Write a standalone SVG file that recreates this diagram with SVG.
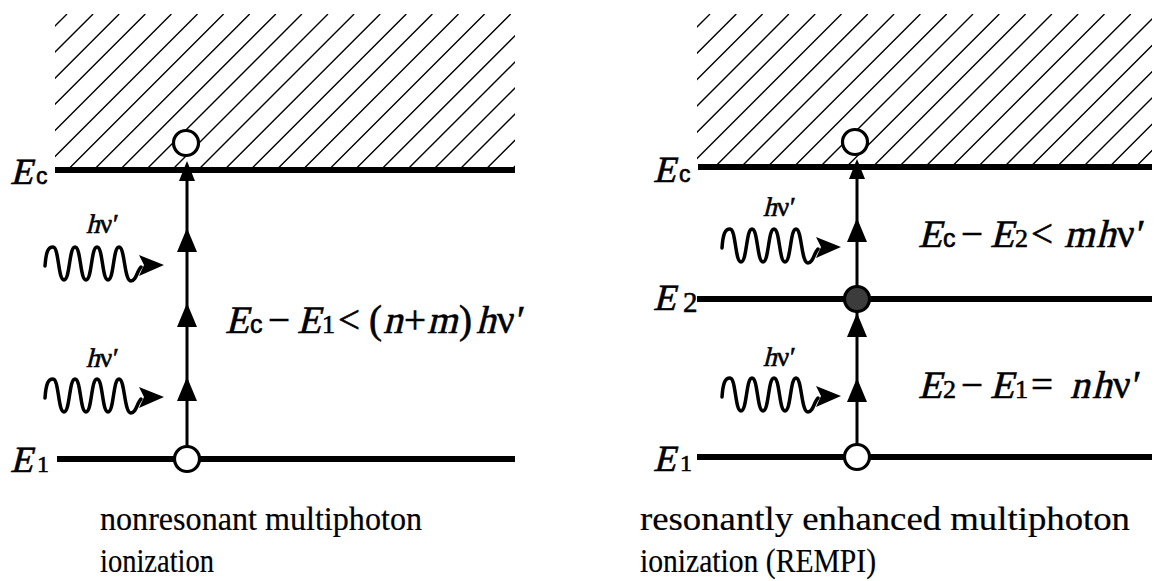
<svg xmlns="http://www.w3.org/2000/svg" xmlns:xlink="http://www.w3.org/1999/xlink" width="1170" height="581" viewBox="0 0 1170 581">
<style>
.hatch{fill:none;stroke:#000;stroke-width:1.4}
.level{stroke:#000;stroke-width:6;stroke-linecap:butt}
.trans{stroke:#000;stroke-width:3}
.state{stroke:#000;stroke-width:3.2;fill:#fff}
.wave{fill:none;stroke:#000;stroke-width:3.5;stroke-linecap:round}
text{font-family:"Liberation Serif","Times New Roman",serif;fill:#000;stroke:#000;stroke-width:0.6}
.sans{font-family:"Liberation Sans",Arial,sans-serif}
.lbl{font-size:37px}
.eq{font-size:39px}
.hv{font-size:27px}
.cap{font-size:33px;stroke-width:0.2}
</style>
<defs>
<clipPath id="clipL"><rect x="55" y="14" width="460" height="156"/></clipPath>
<clipPath id="clipR"><rect x="697" y="14" width="455" height="153"/></clipPath>
<path id="ah" d="M0,0 L-10,24 L10,24 Z" fill="#000"/>
<g id="photon">
<path class="wave" d="M45,266 C46,252 48,247 53,247 C59,247 58,280 64,280 C70,280 69,247 75,247 C81,247 80,280 86,280 C92,280 91,247 97,247 C103,247 102,280 108,280 C114,280 113,247 119,247 C125,247 124,281 131,281 C136,281 137,271 141,267"/>
<path d="M139,255 L164,265 L139,276 L144,265 Z" fill="#000"/>
</g>
</defs>

<g id="hatch-left" clip-path="url(#clipL)">
<path class="hatch" d="M-89 170L67 14M-62.9 170L93.1 14M-36.8 170L119.2 14M-10.7 170L145.3 14M15.4 170L171.4 14M41.5 170L197.5 14M67.6 170L223.6 14M93.7 170L249.7 14M119.8 170L275.8 14M145.9 170L301.9 14M172 170L328 14M198.1 170L354.1 14M224.2 170L380.2 14M250.3 170L406.3 14M276.4 170L432.4 14M302.5 170L458.5 14M328.6 170L484.6 14M354.7 170L510.7 14M380.8 170L536.8 14M406.9 170L562.9 14M433 170L589 14M459.1 170L615.1 14M485.2 170L641.2 14M511.3 170L667.3 14"/>
</g>
<g id="hatch-right" clip-path="url(#clipR)">
<path class="hatch" d="M557 167L710 14M583.3 167L736.3 14M609.6 167L762.6 14M635.9 167L788.9 14M662.2 167L815.2 14M688.5 167L841.5 14M714.8 167L867.8 14M741.1 167L894.1 14M767.4 167L920.4 14M793.7 167L946.7 14M820 167L973 14M846.3 167L999.3 14M872.6 167L1025.6 14M898.9 167L1051.9 14M925.2 167L1078.2 14M951.5 167L1104.5 14M977.8 167L1130.8 14M1004.1 167L1157.1 14M1030.4 167L1183.4 14M1056.7 167L1209.7 14M1083 167L1236 14M1109.3 167L1262.3 14M1135.6 167L1288.6 14"/>
</g>

<g id="connectors">
<line class="trans" x1="187" y1="459" x2="187" y2="166"/>
<use xlink:href="#ah" x="187" y="228"/>
<use xlink:href="#ah" x="187" y="303"/>
<use xlink:href="#ah" x="187" y="377"/>
<path d="M187,161 L179,181 L195,181 Z" fill="#000"/>
<line class="trans" x1="857" y1="457" x2="857" y2="164"/>
<use xlink:href="#ah" x="857" y="218"/>
<use xlink:href="#ah" x="857" y="313"/>
<use xlink:href="#ah" x="857" y="378"/>
<path d="M857,159 L849,179 L865,179 Z" fill="#000"/>
</g>

<g id="levels">
<line id="level-left-Ec" class="level" x1="55" y1="170" x2="515" y2="170"/>
<line id="level-left-E1" class="level" x1="57" y1="459" x2="515" y2="459"/>
<line id="level-right-Ec" class="level" x1="698" y1="167" x2="1152" y2="167"/>
<line id="level-right-E2" class="level" x1="697" y1="299" x2="1152" y2="299"/>
<line id="level-right-E1" class="level" x1="697" y1="457" x2="1152" y2="457"/>
</g>

<g id="node-left-ion"><circle class="state" cx="186" cy="143" r="12.5"/></g>
<g id="node-left-ground"><circle class="state" cx="187" cy="459" r="12.5"/></g>
<g id="node-right-ion"><circle class="state" cx="855" cy="142" r="12.5"/></g>
<g id="node-right-resonant"><circle class="state" cx="857" cy="299" r="12.5" style="fill:#3c3c3c"/></g>
<g id="node-right-ground"><circle class="state" cx="857" cy="457" r="12.5"/></g>

<g id="photons">
<use xlink:href="#photon"/>
<use xlink:href="#photon" y="132"/>
<use xlink:href="#photon" x="677" y="-18"/>
<use xlink:href="#photon" x="677" y="131"/>
</g>

<g id="photon-labels">
<text class="hv" transform="translate(0,233) skewX(-14)" x="86" y="0">h</text>
<text class="hv" y="233"><tspan x="100">ν</tspan><tspan x="113">′</tspan></text>
<text class="hv" transform="translate(0,367) skewX(-14)" x="86" y="0">h</text>
<text class="hv" y="367"><tspan x="100">ν</tspan><tspan x="113">′</tspan></text>
<text class="hv" transform="translate(0,216) skewX(-14)" x="763" y="0">h</text>
<text class="hv" y="216"><tspan x="777">ν</tspan><tspan x="790">′</tspan></text>
<text class="hv" transform="translate(0,366) skewX(-14)" x="763" y="0">h</text>
<text class="hv" y="366"><tspan x="777">ν</tspan><tspan x="790">′</tspan></text>
</g>

<g id="level-labels">
<text class="lbl" transform="translate(0,184) skewX(-14)"><tspan x="10" y="0">E</tspan></text>
<text class="sans" font-size="23" x="36" y="184">c</text>
<text class="lbl" transform="translate(0,472) skewX(-14)"><tspan x="10" y="0">E</tspan></text>
<text font-size="24" x="37" y="472">1</text>
<text class="lbl" transform="translate(0,182) skewX(-14)"><tspan x="653" y="0">E</tspan></text>
<text class="sans" font-size="23" x="679" y="182">c</text>
<text class="lbl" transform="translate(0,310) skewX(-14)"><tspan x="653" y="0">E</tspan></text>
<text font-size="29" x="683" y="312">2</text>
<text class="lbl" transform="translate(0,471) skewX(-14)"><tspan x="653" y="0">E</tspan></text>
<text font-size="24" x="680" y="471">1</text>
</g>

<g id="equations">
<text class="eq" transform="translate(0,333) skewX(-14)"><tspan x="225" y="0">E</tspan><tspan x="297" y="0">E</tspan><tspan x="383" y="0">n</tspan><tspan x="427" y="0">m</tspan><tspan x="476" y="0">h</tspan></text>
<text class="eq" y="333"><tspan class="sans" font-size="25" x="250">c</tspan><tspan x="268">−</tspan><tspan font-size="26" x="322">1</tspan><tspan x="338">&lt;</tspan><tspan x="369">(</tspan><tspan x="404">+</tspan><tspan x="459">)</tspan><tspan x="497">ν</tspan><tspan x="517">′</tspan></text>

<text class="eq" transform="translate(0,247) skewX(-14)"><tspan x="918" y="0">E</tspan><tspan x="990" y="0">E</tspan><tspan x="1064" y="0">m</tspan><tspan x="1096" y="0">h</tspan></text>
<text class="eq" y="247"><tspan class="sans" font-size="25" x="943">c</tspan><tspan x="961">−</tspan><tspan font-size="26" x="1015">2</tspan><tspan x="1031">&lt;</tspan><tspan x="1117">ν</tspan><tspan x="1137">′</tspan></text>

<text class="eq" transform="translate(0,398) skewX(-14)"><tspan x="918" y="0">E</tspan><tspan x="990" y="0">E</tspan><tspan x="1070" y="0">n</tspan><tspan x="1092" y="0">h</tspan></text>
<text class="eq" y="398"><tspan font-size="26" x="943">2</tspan><tspan x="961">−</tspan><tspan font-size="26" x="1015">1</tspan><tspan x="1031">=</tspan><tspan x="1113">ν</tspan><tspan x="1133">′</tspan></text>
</g>

<g id="captions">
<text class="cap" x="100" y="530" textLength="322" lengthAdjust="spacingAndGlyphs">nonresonant multiphoton</text>
<text class="cap" x="100" y="572" textLength="114" lengthAdjust="spacingAndGlyphs">ionization</text>
<text class="cap" x="640" y="530" textLength="490" lengthAdjust="spacingAndGlyphs">resonantly enhanced multiphoton</text>
<text class="cap" x="640" y="572" textLength="236" lengthAdjust="spacingAndGlyphs">ionization (REMPI)</text>
</g>
</svg>
